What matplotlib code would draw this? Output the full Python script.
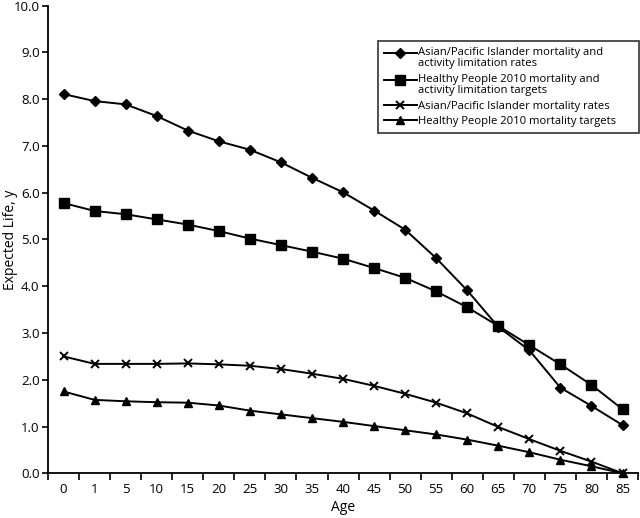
import numpy as np
import matplotlib
matplotlib.use('Agg')
import matplotlib.pyplot as plt
from matplotlib.legend_handler import HandlerLine2D

ages = ['0', '1', '5', '10', '15', '20', '25', '30', '35', '40',
        '45', '50', '55', '60', '65', '70', '75', '80', '85']

api_mort_act = [8.11, 7.96, 7.89, 7.64, 7.33, 7.10, 6.92, 6.65, 6.32, 6.01,
                5.62, 5.21, 4.60, 3.91, 3.13, 2.63, 1.83, 1.44, 1.03]
hp_mort_act = [5.78, 5.61, 5.54, 5.43, 5.32, 5.18, 5.02, 4.88, 4.74, 4.59,
               4.39, 4.18, 3.89, 3.55, 3.15, 2.74, 2.33, 1.89, 1.37]
api_mort = [2.50, 2.34, 2.34, 2.34, 2.35, 2.33, 2.30, 2.23, 2.13, 2.02,
            1.87, 1.70, 1.51, 1.28, 0.99, 0.73, 0.48, 0.25, 0.0]
hp_mort = [1.75, 1.57, 1.54, 1.52, 1.51, 1.45, 1.34, 1.26, 1.18, 1.10,
           1.01, 0.92, 0.83, 0.72, 0.59, 0.45, 0.29, 0.15, 0.0]

labels = ['Asian/Pacific Islander mortality and\nactivity limitation rates',
          'Healthy People 2010 mortality and\nactivity limitation targets',
          'Asian/Pacific Islander mortality rates',
          'Healthy People 2010 mortality targets']


# handle on the first line of a two-line label
class TopHandler(HandlerLine2D):
    def __init__(self, dy=0, **kw):
        super().__init__(**kw)
        self.dy = dy

    def create_artists(self, legend, orig_handle, xdescent, ydescent,
                       width, height, fontsize, trans):
        arts = super().create_artists(legend, orig_handle, xdescent, ydescent,
                                      width, height, fontsize, trans)
        for a in arts:
            a.set_ydata(np.asarray(a.get_ydata()) + self.dy)
        return arts


plt.rcParams['font.family'] = ['Open Sans', 'DejaVu Sans']

fig = plt.figure(figsize=(6.4, 5.18), dpi=100)
ax = fig.add_axes([0.075, 0.0863, 0.922, 0.9027])

x = np.arange(len(ages))
l1, = ax.plot(x, api_mort_act, color='black', lw=1.4, marker='D', ms=5, label=labels[0], clip_on=False)
l2, = ax.plot(x, hp_mort_act, color='black', lw=1.4, marker='s', ms=6.5, label=labels[1], clip_on=False)
l3, = ax.plot(x, api_mort, color='black', lw=1.4, marker='x', ms=6, mew=1.4, label=labels[2], clip_on=False)
l4, = ax.plot(x, hp_mort, color='black', lw=1.4, marker='^', ms=6, label=labels[3], clip_on=False)

ax.set_xlim(-0.5, len(ages) - 0.5)
ax.set_ylim(0, 10)
ax.set_yticks(np.arange(0, 10.1, 1.0))
ax.set_yticklabels(['%.1f' % v for v in np.arange(0, 10.1, 1.0)], fontsize=9.5)
ax.set_xticks(x)
ax.set_xticklabels(ages, fontsize=9.5)
ax.set_xticks(np.arange(-0.5, len(ages)), minor=True)
ax.tick_params(axis='x', which='major', length=0, pad=7)
ax.tick_params(axis='x', which='minor', length=5, width=1.2, direction='out')
ax.tick_params(axis='y', length=4, width=1.2, direction='out', pad=2)

for s in ['top', 'right']:
    ax.spines[s].set_visible(False)
for s in ['left', 'bottom']:
    ax.spines[s].set_linewidth(1.3)

ax.set_xlabel('Age', fontsize=10)
ax.set_ylabel('Expected Life, y', fontsize=10)
ax.xaxis.set_label_coords(0.5, -0.057)
ax.yaxis.set_label_coords(-0.05, 0.5)

leg = ax.legend(loc='upper left', bbox_to_anchor=(0.559, 0.925, 0.443, 0.0),
                mode='expand', fontsize=8.1,
                frameon=True, fancybox=False, edgecolor='black',
                handlelength=2.9, handletextpad=0.1, labelspacing=0.4,
                borderpad=0.55, borderaxespad=0,
                handler_map={l1: TopHandler(dy=4), l2: TopHandler(dy=4)})
leg.get_frame().set_linewidth(1.2)
for t in leg.get_texts():
    t.set_linespacing(1.05)

plt.savefig('out.png', dpi=100)
